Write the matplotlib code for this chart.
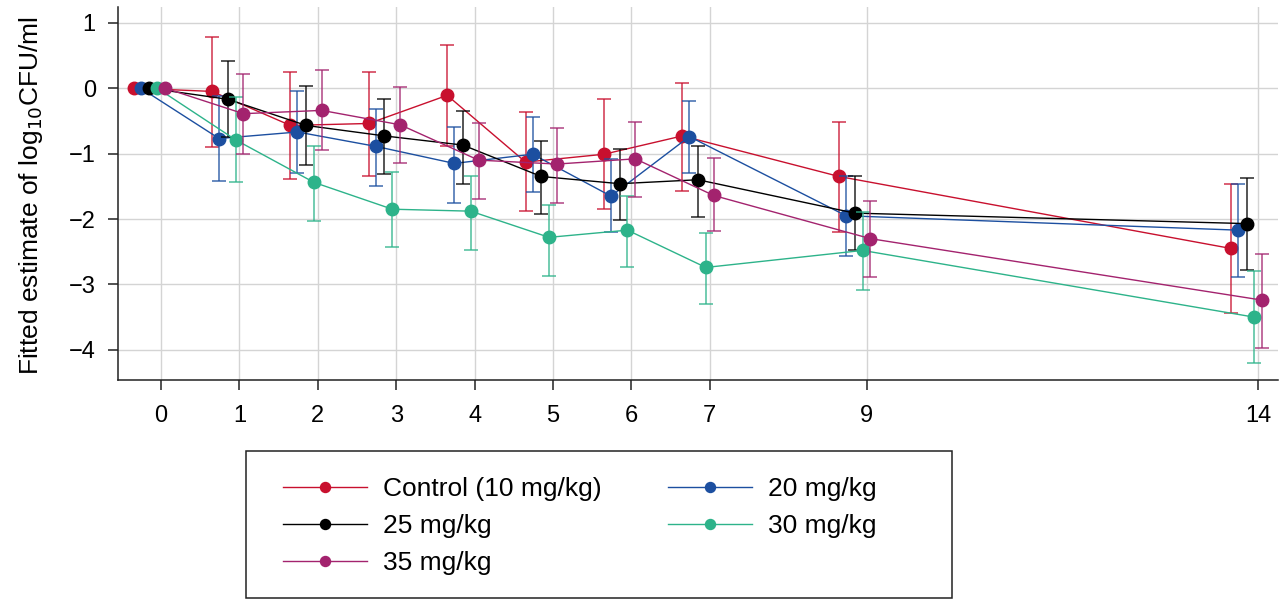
import matplotlib
matplotlib.use("Agg")
import matplotlib.pyplot as plt
from matplotlib.patches import Rectangle
import numpy as np

plt.rcParams['font.family'] = ['Liberation Sans', 'DejaVu Sans']

days = [0, 1, 2, 3, 4, 5, 6, 7, 9, 14]
xtick_labels = ["0", "1", "2", "3", "4", "5", "6", "7", "9", "14"]

labels = ["Control (10 mg/kg)", "20 mg/kg", "25 mg/kg", "30 mg/kg", "35 mg/kg"]
colors = ["#c8102e", "#1c4fa0", "#000000", "#2db38a", "#a3236e"]
offsets = [-0.35, -0.26, -0.15, -0.05, 0.05]

ctrl_mean = [0, -0.05, -0.57, -0.54, -0.11, -1.13, -1.01, -0.73, -1.35, -2.45]
ctrl_low  = [0, -0.90, -1.39, -1.34, -0.88, -1.88, -1.85, -1.57, -2.20, -3.44]
ctrl_high = [0,  0.78,  0.25,  0.25,  0.66, -0.37, -0.17,  0.08, -0.52, -1.46]

d20_mean = [0, -0.77, -0.67, -0.89, -1.15, -1.01, -1.65, -0.74, -1.95, -2.17]
d20_low  = [0, -1.42, -1.30, -1.50, -1.75, -1.58, -2.20, -1.30, -2.57, -2.89]
d20_high = [0, -0.12, -0.04, -0.32, -0.59, -0.44, -1.08, -0.19, -1.35, -1.47]

d25_mean = [0, -0.17, -0.57, -0.73, -0.87, -1.35, -1.46, -1.40, -1.91, -2.07]
d25_low  = [0, -0.75, -1.17, -1.31, -1.46, -1.92, -2.02, -1.97, -2.48, -2.78]
d25_high = [0,  0.41,  0.04, -0.17, -0.35, -0.81, -0.93, -0.88, -1.34, -1.37]

d30_mean = [0, -0.79, -1.44, -1.85, -1.88, -2.28, -2.17, -2.74, -2.48, -3.50]
d30_low  = [0, -1.44, -2.03, -2.43, -2.47, -2.87, -2.74, -3.30, -3.08, -4.20]
d30_high = [0, -0.14, -0.88, -1.28, -1.34, -1.79, -1.65, -2.21, -1.89, -2.80]

d35_mean = [0, -0.39, -0.34, -0.56, -1.10, -1.16, -1.08, -1.64, -2.30, -3.24]
d35_low  = [0, -1.00, -0.95, -1.14, -1.69, -1.75, -1.66, -2.18, -2.89, -3.97]
d35_high = [0,  0.21,  0.27,  0.01, -0.54, -0.61, -0.52, -1.07, -1.73, -2.53]

means = [ctrl_mean, d20_mean, d25_mean, d30_mean, d35_mean]
lows = [ctrl_low, d20_low, d25_low, d30_low, d35_low]
highs = [ctrl_high, d20_high, d25_high, d30_high, d35_high]

fig = plt.figure(figsize=(12.79, 6.01), dpi=100)
ax = fig.add_axes([118/1279, 1 - 380/601, 1160/1279, 373/601])

handles = {}
for lab, col, off, m, lo, hi in zip(labels, colors, offsets, means, lows, highs):
    x = np.array(days, dtype=float) + off
    m = np.array(m); lo = np.array(lo); hi = np.array(hi)
    has_err = (hi - lo) > 0
    ax.errorbar(x[has_err], m[has_err], yerr=[m[has_err] - lo[has_err], hi[has_err] - m[has_err]],
                fmt='none', ecolor=col, elinewidth=1.1, capsize=5, capthick=1.1, alpha=0.85)
    ln, = ax.plot(x, m, '-o', color=col, lw=1.0, markersize=9, label=lab)
    handles[lab] = ln

ax.set_xlim(-0.55, 14.25)
ax.set_ylim(-4.46, 1.24)
ax.set_xticks(days)
ax.set_xticklabels(xtick_labels)
ax.set_yticks([1, 0, -1, -2, -3, -4])
ax.set_yticklabels(["1", "0", "\u22121", "\u22122", "\u22123", "\u22124"])
ax.grid(True, color="#d4d4d4", lw=1.0)
ax.set_axisbelow(True)
for s in ["top", "right"]:
    ax.spines[s].set_visible(False)
for s in ["left", "bottom"]:
    ax.spines[s].set_linewidth(1.1)
    ax.spines[s].set_color("#222222")
ax.tick_params(axis='both', direction='out', length=7, width=1.1, color="#222222",
               labelsize=17)
ax.tick_params(axis='x', pad=11)
ax.tick_params(axis='y', pad=9)
ax.set_ylabel("Fitted estimate of log$_{10}$CFU/ml", fontsize=19)
ax.yaxis.set_label_coords(-0.063, 0.495)

fig.patches.append(Rectangle((246/1279, 3/601), 706/1279, 147/601, transform=fig.transFigure,
                             fill=False, ec="#222222", lw=1.1))

order = ["Control (10 mg/kg)", "25 mg/kg", "35 mg/kg", "20 mg/kg", "30 mg/kg"]
leg = fig.legend([handles[k] for k in order], order, loc='upper left', ncol=2,
                 bbox_to_anchor=(283/1279, 1 - 477/601),
                 borderaxespad=0, borderpad=0, fontsize=19, frameon=False,
                 handlelength=3.2, handletextpad=0.6,
                 labelspacing=0.5, columnspacing=2.5, markerscale=0.8)

fig.savefig("out.png", dpi=100)
